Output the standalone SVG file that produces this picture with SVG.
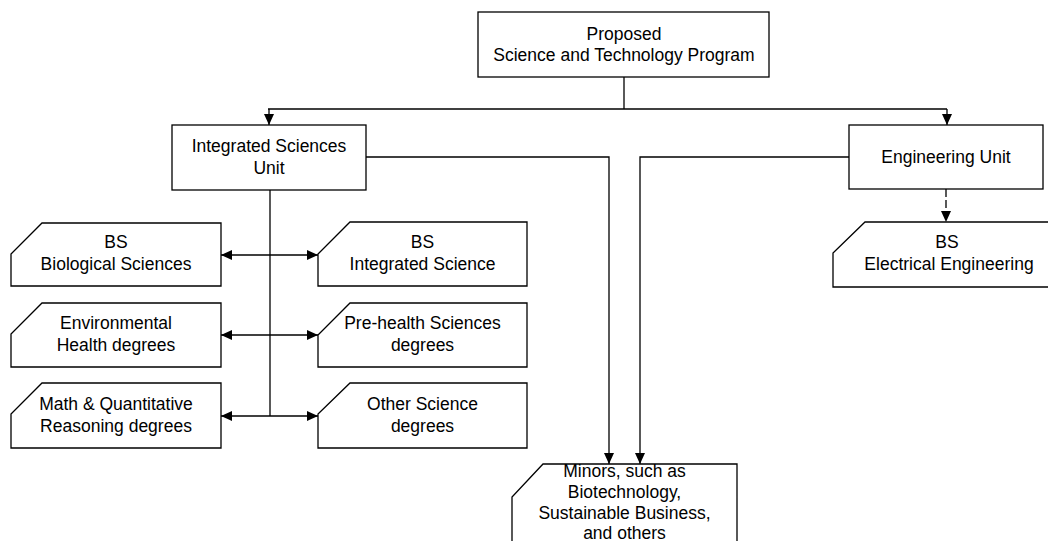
<svg xmlns="http://www.w3.org/2000/svg" width="1048" height="541" viewBox="0 0 1048 541">
<style>
.box{fill:#fff;stroke:#000;stroke-width:1.3}
.ln{fill:none;stroke:#000;stroke-width:1.3}
.dash{stroke-dasharray:8,3}
text{font-family:"Liberation Sans",Arial,sans-serif;font-size:17.5px;fill:#000;text-anchor:middle}
</style>
<defs>
<marker id="ah" markerUnits="userSpaceOnUse" markerWidth="12" markerHeight="10" refX="11" refY="5" orient="auto-start-reverse">
<path d="M0,0 L11,5 L0,10 z" fill="#000"/>
</marker>
</defs>
<rect width="1048" height="541" fill="#fff"/>
<g id="connectors">
<polyline class="ln" points="624,77 624,109"/>
<line class="ln" x1="268" y1="109" x2="947" y2="109"/>
<line class="ln" x1="269" y1="109" x2="269" y2="125" marker-end="url(#ah)"/>
<line class="ln" x1="947" y1="109" x2="947" y2="125" marker-end="url(#ah)"/>
<line class="ln" x1="270" y1="190" x2="270" y2="416"/>
<line class="ln" x1="221" y1="255" x2="318" y2="255" marker-start="url(#ah)" marker-end="url(#ah)"/>
<line class="ln" x1="221" y1="335" x2="318" y2="335" marker-start="url(#ah)" marker-end="url(#ah)"/>
<line class="ln" x1="221" y1="416" x2="318" y2="416" marker-start="url(#ah)" marker-end="url(#ah)"/>
<polyline class="ln" points="366,157 609,157 609,464" marker-end="url(#ah)"/>
<polyline class="ln" points="849,157 640,157 640,464" marker-end="url(#ah)"/>
<line class="ln dash" x1="946" y1="189" x2="946" y2="222" marker-end="url(#ah)"/>
</g>
<g id="program">
<rect class="box" x="478" y="12" width="291" height="65"/>
<text x="624" y="39.5">Proposed</text>
<text x="624" y="61">Science and Technology Program</text>
</g>
<g id="isu">
<rect class="box" x="172" y="125" width="194" height="65"/>
<text x="269" y="152">Integrated Sciences</text>
<text x="269" y="173.5">Unit</text>
</g>
<g id="eu">
<rect class="box" x="849" y="125" width="194" height="64"/>
<text x="946" y="163">Engineering Unit</text>
</g>
<g id="bio">
<polygon class="box" points="42,223 221,223 221,286 11,286 11,254"/>
<text x="116" y="247.5">BS</text>
<text x="116" y="270">Biological Sciences</text>
</g>
<g id="bsis">
<polygon class="box" points="350,222 527,222 527,286 318,286 318,254"/>
<text x="422.5" y="247.5">BS</text>
<text x="422.5" y="270">Integrated Science</text>
</g>
<g id="env">
<polygon class="box" points="42,303 221,303 221,367 11,367 11,334"/>
<text x="116" y="328.5">Environmental</text>
<text x="116" y="351">Health degrees</text>
</g>
<g id="prehealth">
<polygon class="box" points="350,303 527,303 527,367 318,367 318,335"/>
<text x="422.5" y="328.5">Pre-health Sciences</text>
<text x="422.5" y="351">degrees</text>
</g>
<g id="math">
<polygon class="box" points="42,383 221,383 221,448 11,448 11,414"/>
<text x="116" y="409.5">Math &amp; Quantitative</text>
<text x="116" y="431.5">Reasoning degrees</text>
</g>
<g id="other">
<polygon class="box" points="350,383 527,383 527,448 318,448 318,414"/>
<text x="422.5" y="409.5">Other Science</text>
<text x="422.5" y="431.5">degrees</text>
</g>
<g id="ee">
<polygon class="box" points="865,222 1062,222 1062,287 833,287 833,253"/>
<text x="947" y="247.5">BS</text>
<text x="949" y="270">Electrical Engineering</text>
</g>
<g id="minors">
<polygon class="box" points="543,464 737,464 737,580 512,580 512,497"/>
<text x="624.5" y="476.5">Minors, such as</text>
<text x="624.5" y="497.5">Biotechnology,</text>
<text x="624.5" y="518.5">Sustainable Business,</text>
<text x="624.5" y="539">and others</text>
</g>
</svg>
